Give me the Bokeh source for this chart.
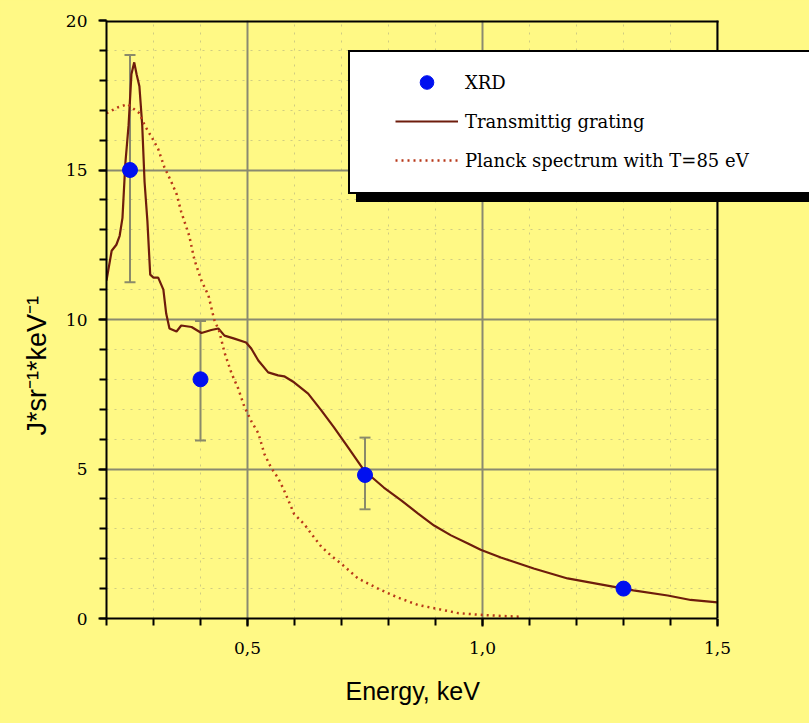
from bokeh.plotting import figure
from bokeh.models import (Range1d, FixedTicker, Whisker, ColumnDataSource, TeeHead,
                          Legend, LegendItem, GlobalInlineStyleSheet, BoxAnnotation,
                          Span, Title)
from bokeh.embed import file_html
from bokeh.resources import INLINE

BG = "#FFF985"

# Transmission grating spectrum (energy keV, J*sr^-1*keV^-1)
grating_e = [0.200, 0.211, 0.221, 0.228, 0.234, 0.240, 0.247, 0.253, 0.259, 0.264,
             0.270, 0.276, 0.281, 0.287, 0.293, 0.300, 0.310, 0.321, 0.327, 0.334,
             0.349, 0.359, 0.381, 0.402, 0.423, 0.438, 0.451, 0.472, 0.497, 0.508,
             0.523, 0.544, 0.565, 0.578, 0.599, 0.629, 0.657, 0.684, 0.714, 0.748,
             0.790, 0.827, 0.863, 0.897, 0.933, 0.969, 0.996, 1.039, 1.109, 1.181,
             1.251, 1.321, 1.394, 1.443, 1.500]
grating_y = [11.3, 12.3, 12.5, 12.8, 13.4, 15.2, 16.5, 18.2, 18.6, 18.2,
             17.8, 16.5, 14.6, 13.3, 11.5, 11.4, 11.4, 11.0, 10.2, 9.7,
             9.6, 9.8, 9.75, 9.55, 9.65, 9.7, 9.46, 9.36, 9.23, 9.03,
             8.63, 8.23, 8.13, 8.1, 7.9, 7.52, 6.96, 6.39, 5.72, 4.95,
             4.38, 3.95, 3.51, 3.11, 2.78, 2.51, 2.3, 2.04, 1.67, 1.34,
             1.14, 0.94, 0.77, 0.62, 0.54]

# Planck spectrum, T = 85 eV
planck_e = [0.200, 0.225, 0.245, 0.270, 0.281, 0.296, 0.310, 0.323, 0.338, 0.349,
            0.359, 0.376, 0.387, 0.402, 0.417, 0.429, 0.440, 0.451, 0.466, 0.480,
            0.493, 0.508, 0.523, 0.536, 0.550, 0.565, 0.576, 0.587, 0.599, 0.621,
            0.635, 0.657, 0.678, 0.699, 0.735, 0.778, 0.820, 0.863, 0.905, 0.948,
            0.990, 1.033, 1.081]
planck_y = [16.9, 17.1, 17.2, 16.9, 16.5, 16.1, 15.7, 15.1, 14.6, 14.2,
            13.6, 12.8, 12.0, 11.3, 10.8, 10.0, 9.6, 8.9, 8.2, 7.7,
            7.1, 6.6, 6.2, 5.5, 5.05, 4.7, 4.35, 3.95, 3.5, 3.15,
            2.85, 2.4, 2.1, 1.84, 1.34, 1.0, 0.70, 0.45, 0.32, 0.18,
            0.13, 0.09, 0.06]

# XRD measurements
xrd_e = [0.25, 0.40, 0.75, 1.30]
xrd_y = [15.0, 8.0, 4.8, 1.0]
err_e = [0.25, 0.40, 0.75]
err_lo = [11.25, 5.95, 3.65]
err_hi = [18.85, 9.95, 6.05]

x_min, x_max = 0.2, 1.5
y_min, y_max = 0, 20
x_major = [0.5, 1.0, 1.5]
x_minor = [0.2, 0.3, 0.4, 0.5, 0.6, 0.7, 0.8, 0.9, 1.0, 1.1, 1.2, 1.3, 1.4, 1.5]
x_labels = {0.5: "0,5", 1.0: "1,0", 1.5: "1,5"}
y_major = [0, 5, 10, 15, 20]
y_minor = list(range(0, 21))

# layout: the plotting frame runs on to the right edge of the page so that the
# legend can spill past the right border of the axes box, as in the original
W, H = 809, 723
LEFT, TOP, BOTTOM = 106, 20, 105
PX_PER_UNIT = 470.0
x_view_end = x_min + (W - LEFT) / PX_PER_UNIT

p = figure(width=W, height=H, output_backend="svg", toolbar_location=None,
           x_range=Range1d(x_min, x_view_end), y_range=Range1d(y_min, y_max),
           min_border_left=LEFT, min_border_right=0, min_border_top=TOP,
           min_border_bottom=BOTTOM)
p.background_fill_color = BG
p.border_fill_color = BG
p.outline_line_color = None

xt = FixedTicker(ticks=x_major, minor_ticks=x_minor)
yt = FixedTicker(ticks=y_major, minor_ticks=y_minor)
p.xaxis.ticker = xt
p.yaxis.ticker = yt
p.xgrid.ticker = xt
p.ygrid.ticker = yt
p.xaxis.major_label_overrides = x_labels
p.xaxis.bounds = (x_min, x_max)

for ax in (p.xaxis[0], p.yaxis[0]):
    ax.axis_line_color = "black"
    ax.axis_line_width = 2
    ax.major_tick_line_color = "black"
    ax.major_tick_line_width = 2
    ax.major_tick_out = 8
    ax.major_tick_in = 0
    ax.minor_tick_line_color = "black"
    ax.minor_tick_line_width = 2
    ax.minor_tick_out = 7
    ax.minor_tick_in = 0
    ax.major_label_text_font = "DejaVu Serif"
    ax.major_label_text_font_size = "17px"
    ax.major_label_text_color = "black"

p.xaxis.major_label_standoff = 15
p.yaxis.major_label_standoff = 11

p.add_layout(Title(text="Energy, keV", align="left", offset=239,
                   text_font="Liberation Sans", text_font_style="normal",
                   text_font_size="25px", text_color="black", standoff=37), "below")
p.add_layout(Title(text="J*sr⁻¹*keV⁻¹", align="left", offset=183,
                   text_font="Liberation Sans", text_font_style="normal",
                   text_font_size="27px", text_color="black", standoff=21), "left")

for g in (p.xgrid[0], p.ygrid[0]):
    g.grid_line_color = "#8a8a70"
    g.grid_line_width = 2
    g.minor_grid_line_color = "#a8a880"
    g.minor_grid_line_alpha = 0.55
    g.minor_grid_line_width = 1
    g.minor_grid_line_dash = "2 6"

r_grating = p.line(grating_e, grating_y, line_color="#6E1C0C", line_width=2.2)
r_planck = p.line(planck_e, planck_y, line_color="#B8381A", line_width=2.5,
                  line_dash="2 4")

err_src = ColumnDataSource(dict(x=err_e, lo=err_lo, hi=err_hi))
wh = Whisker(source=err_src, base="x", lower="lo", upper="hi",
             line_color="#8a8a6a", line_width=2,
             lower_head=TeeHead(size=11, line_color="#8a8a6a", line_width=2),
             upper_head=TeeHead(size=11, line_color="#8a8a6a", line_width=2))
p.add_layout(wh)

r_xrd = p.scatter(xrd_e, xrd_y, size=15, marker="circle", fill_color="#0010F0",
                  line_color="#0010F0")

# hide the grid beyond the right border of the axes box
p.add_layout(BoxAnnotation(left=x_max, right=x_view_end + 1, bottom=y_min - 1,
                           top=y_max + 1, fill_color=BG, fill_alpha=1, line_alpha=0))
# right and top borders of the axes box
p.add_layout(Span(location=x_max, dimension="height", line_color="black", line_width=2))
p.add_layout(BoxAnnotation(left=x_min, right=x_max + 1.0 / PX_PER_UNIT,
                           bottom=y_max - 2.0 * (y_max - y_min) / 598.0, top=y_max + 1,
                           fill_color="black", fill_alpha=1, line_alpha=0))

# invisible renderer used only to give the legend frame and its shadow a body
r_blank = p.scatter(x=[], y=[], fill_alpha=0, line_alpha=0)


def frame_legend(loc, color):
    return Legend(items=[LegendItem(label="", renderers=[r_blank])],
                  location=loc, background_fill_color=color, background_fill_alpha=1,
                  border_line_color="black", border_line_width=2, border_line_alpha=1,
                  glyph_width=20, glyph_height=120, padding=10, spacing=0,
                  label_width=440, label_standoff=5, margin=0)


p.add_layout(frame_legend((250, 416), "black"))   # drop shadow
p.add_layout(frame_legend((242, 424), "white"))   # white legend box

legend = Legend(items=[LegendItem(label="XRD", renderers=[r_xrd]),
                       LegendItem(label="Transmittig grating", renderers=[r_grating]),
                       LegendItem(label="Planck spectrum with T=85 eV", renderers=[r_planck])],
                location=(279, 431), background_fill_alpha=0, border_line_alpha=0,
                glyph_width=63, glyph_height=34, spacing=5, padding=10,
                label_standoff=7, label_text_font="DejaVu Serif",
                label_text_font_size="18px", label_text_color="black", margin=0)
p.add_layout(legend)

p.stylesheets = [GlobalInlineStyleSheet(css="html, body { background: %s; }" % BG)]

open("out.html", "w").write(file_html(p, INLINE))
